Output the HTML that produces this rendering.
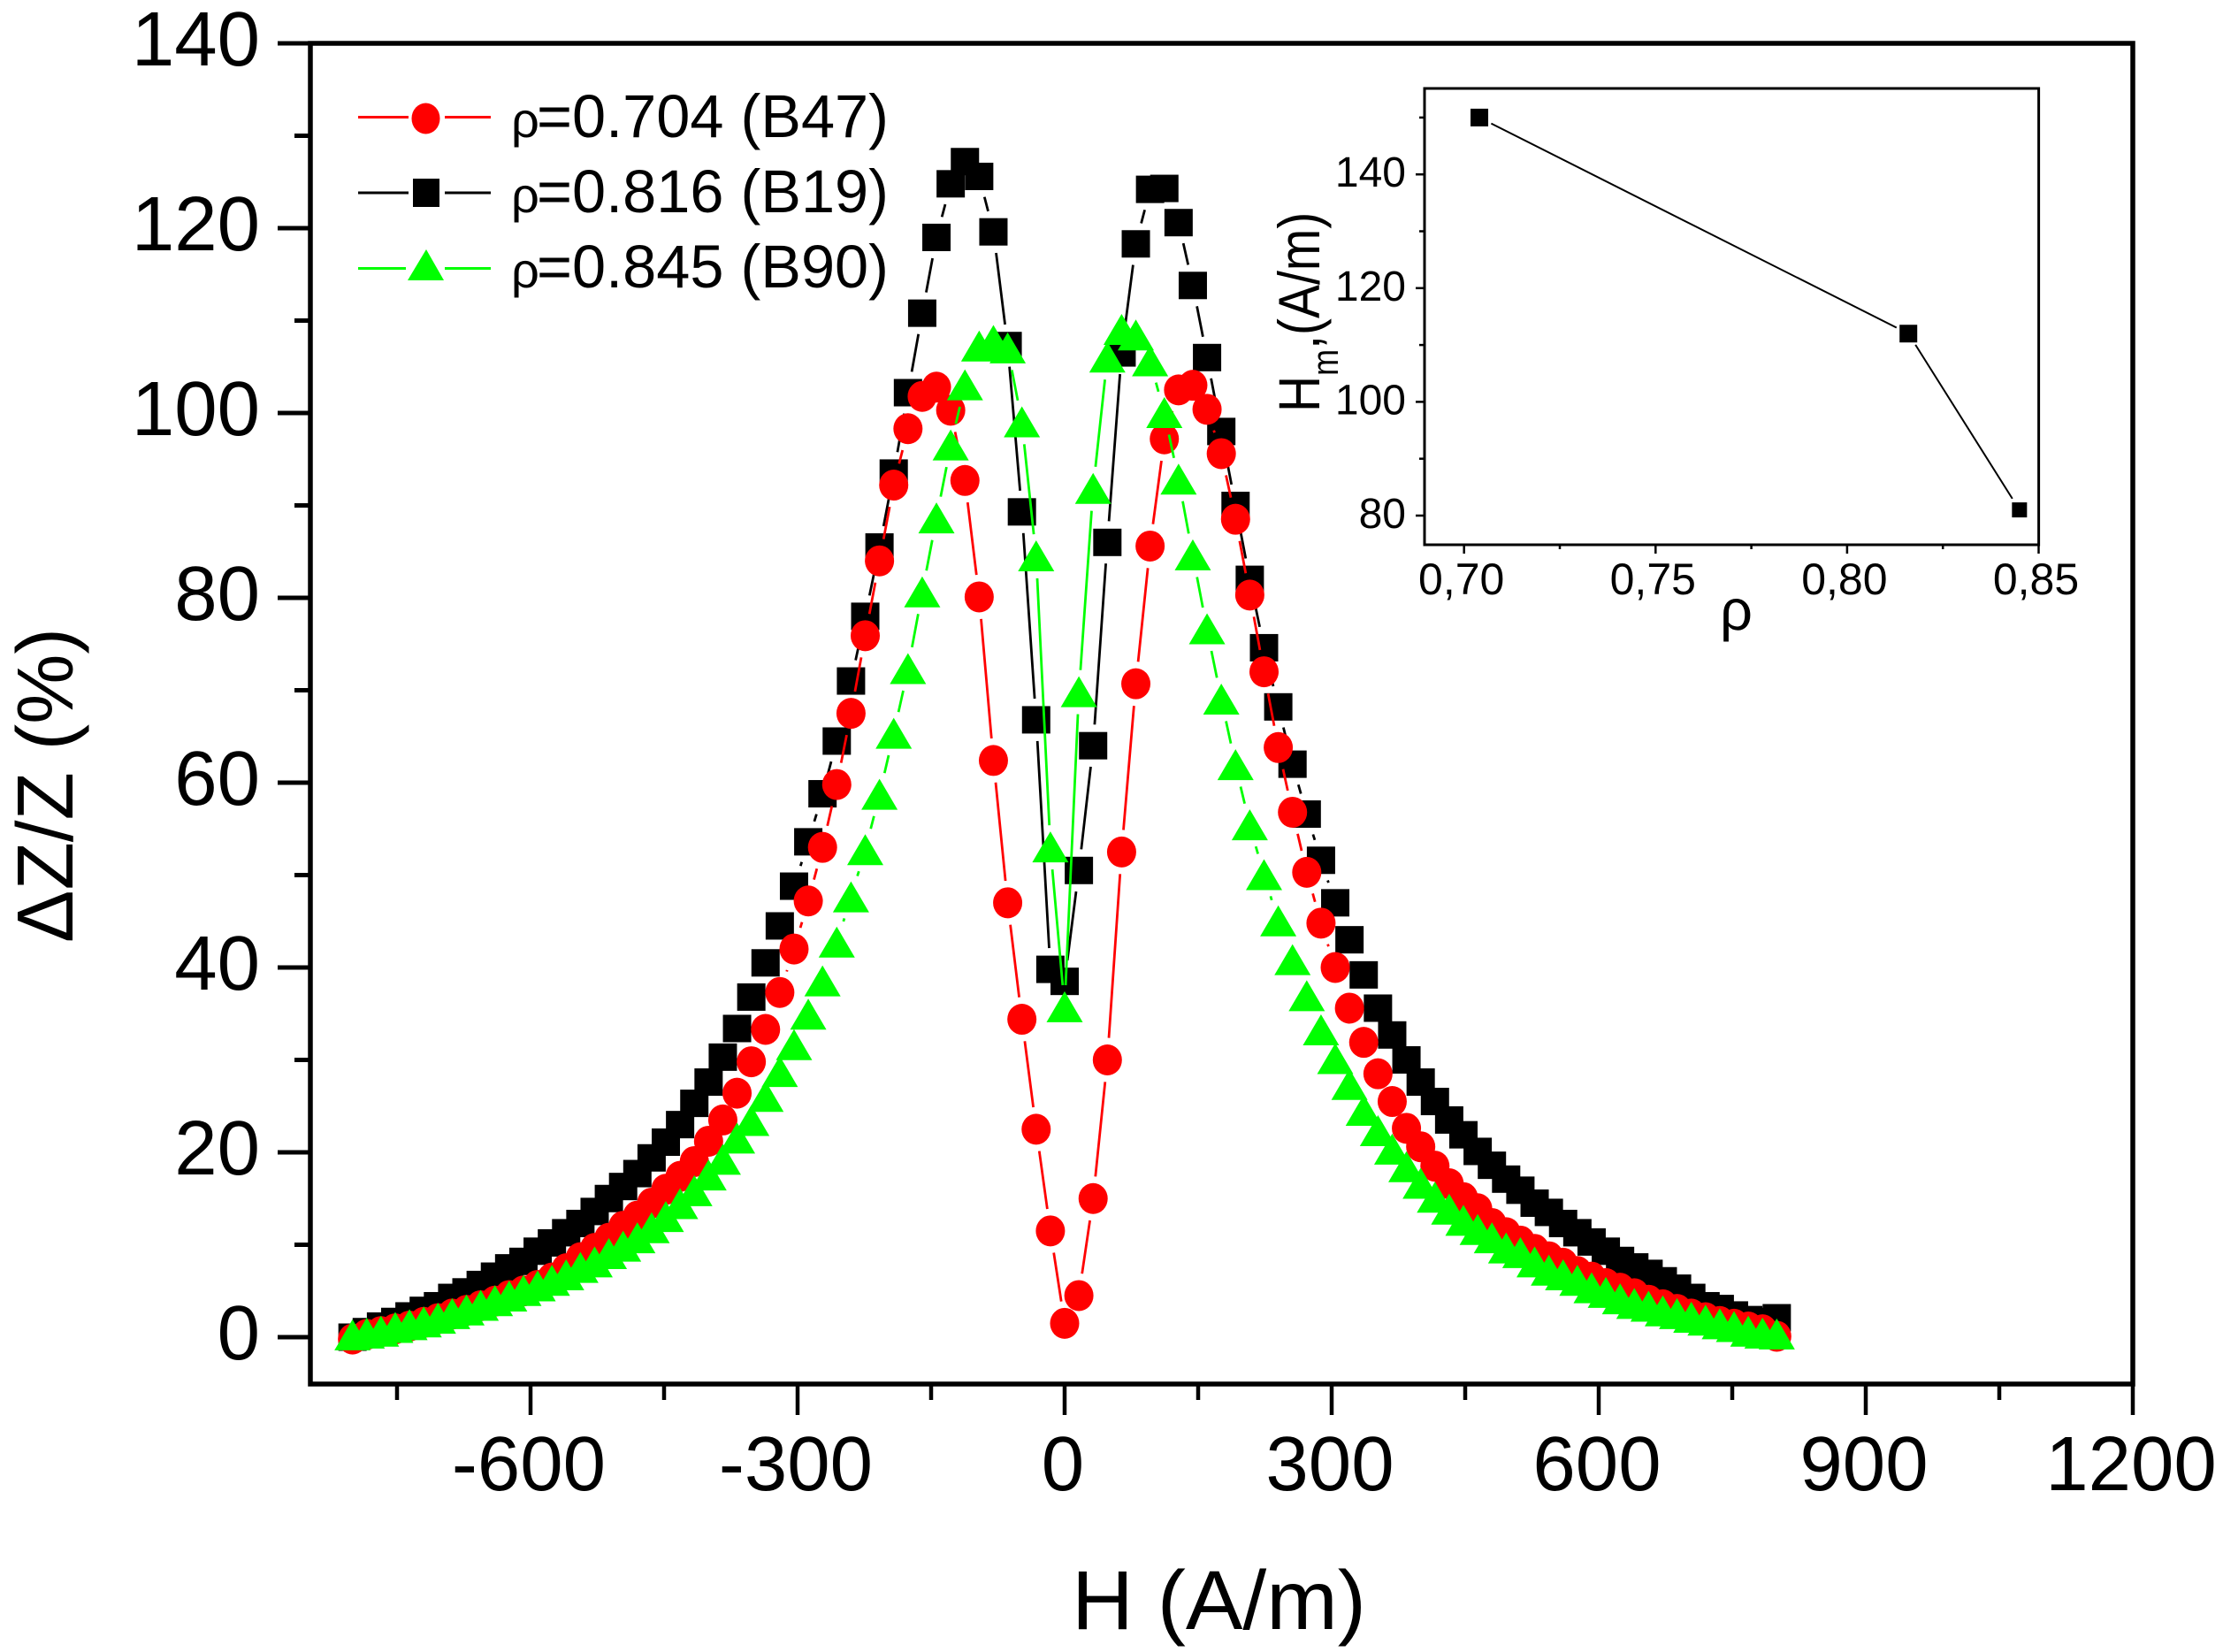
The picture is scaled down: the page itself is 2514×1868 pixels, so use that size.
<!DOCTYPE html>
<html lang="en">
<head>
<meta charset="utf-8">
<title>Magnetoimpedance ratio versus magnetic field</title>
<style>
html,body{margin:0;padding:0;background:#fff;}
svg{display:block;}
text{font-family:"Liberation Sans",sans-serif;fill:#000;}
</style>
</head>
<body>
<svg id="chart" xmlns="http://www.w3.org/2000/svg" width="2514" height="1868" viewBox="0 0 2514 1868">
  <rect x="0" y="0" width="2514" height="1868" fill="#fff"/>
  <g id="main-series"></g>
  <g id="main-axes" stroke="#000" fill="none"></g>
  <g id="main-labels"></g>

  <text x="1212" y="1842" font-size="95" textLength="333" lengthAdjust="spacingAndGlyphs">H (A/m)</text>
  <text transform="translate(82 1066) rotate(-90)" x="0" y="0" font-size="90" textLength="356" lengthAdjust="spacingAndGlyphs">ΔZ/Z (%)</text>

  <g id="legend">
    <g>
      <path d="M405 132.5H462M503 132.5H555" stroke="#f00" stroke-width="3" fill="none"/>
      <ellipse cx="481.5" cy="134" rx="16" ry="17.5" fill="#f00"/>
      <text y="155"><tspan x="578" font-size="56">ρ</tspan><tspan x="607" font-size="68.5">=0.704 (B47)</tspan></text>
    </g>
    <g>
      <path d="M405 218H462M503 218H555" stroke="#000" stroke-width="3" fill="none"/>
      <rect x="467" y="202" width="30" height="32" fill="#000"/>
      <text y="240"><tspan x="578" font-size="56">ρ</tspan><tspan x="607" font-size="68.5">=0.816 (B19)</tspan></text>
    </g>
    <g>
      <path d="M405 303.5H459M503 303.5H555" stroke="#0f0" stroke-width="3" fill="none"/>
      <polygon points="482,282 502,317 461,317" fill="#0f0"/>
      <text y="325"><tspan x="578" font-size="56">ρ</tspan><tspan x="607" font-size="68.5">=0.845 (B90)</tspan></text>
    </g>
  </g>

  <g id="inset">
    <g id="inset-series"></g>
    <g id="inset-axes" stroke="#000" fill="none"></g>
    <g id="inset-labels"></g>
    <text x="1945" y="712" font-size="65">ρ</text>
    <text transform="translate(1492 466) rotate(-90) scale(1 1.16)" x="0" y="0" font-size="57">H<tspan font-size="36" dy="18">m</tspan><tspan dy="-18">,(A/m)</tspan></text>
  </g>
</svg>

<script>
var fieldValues = [-800,-784,-768,-752,-736,-720,-704,-688,-672,-656,-640,-624,-608,-592,-576,-560,-544,-528,-512,-496,-480,-464,-448,-432,-416,-400,-384,-368,-352,-336,-320,-304,-288,-272,-256,-240,-224,-208,-192,-176,-160,-144,-128,-112,-96,-80,-64,-48,-32,-16,0,16,32,48,64,80,96,112,128,144,160,176,192,208,224,240,256,272,288,304,320,336,352,368,384,400,416,432,448,464,480,496,512,528,544,560,576,592,608,624,640,656,672,688,704,720,736,752,768,784,800];

var seriesB47 = [-0.2,0.3,0.6,0.9,1.2,1.6,2,2.5,2.9,3.4,3.9,4.5,5,5.6,6.4,7.4,8.6,9.6,10.7,12,13.1,14.5,16,17.4,19,21.2,23.5,26.4,29.8,33.3,37.3,42,47.2,53,59.8,67.5,75.9,84,92.2,98.3,101.8,102.8,100.3,92.7,80.1,62.4,47,34.4,22.5,11.5,1.5,4.5,15,30,52.5,70.7,85.6,97.2,102.5,103,100.4,95.6,88.5,80.3,72,63.8,56.8,50.3,44.8,40,35.6,31.9,28.5,25.5,22.6,20.6,18.5,16.6,15.1,13.9,12.3,11.3,10.4,9.5,8.7,8,7.1,6.5,5.8,5.3,4.7,4,3.5,3,2.5,2.1,1.7,1.4,1.1,0.8,0.1];

var seriesB19 = [0,0.6,1.2,1.7,2.3,2.9,3.4,4.3,4.9,5.7,6.6,7.5,8.2,9.3,10.2,11.3,12.3,13.6,15,16.3,17.7,19.4,21.1,23,25.3,27.6,30.3,33.4,36.8,40.5,44.5,48.8,53.6,58.8,64.5,71,78,85.5,93.5,102.2,110.8,119,124.8,127.2,125.6,119.6,107.3,89.3,66.8,39.8,38.5,50.5,64,86,106.5,118.3,124.2,124.3,120.6,113.8,106,98,90,82,74.6,68.2,62,56.6,51.6,47,43,39.2,35.6,32.7,30,27.6,25.5,23.5,21.9,20.1,18.6,17.1,15.9,14.5,13.5,12.3,11.3,10.3,9.3,8.3,7.6,6.9,6.1,5.3,4.3,3.4,3.1,2.4,1.9,1.7,2.1];

var seriesB90 = [0.2,0.4,0.6,1,1.3,1.6,2,2.5,2.9,3.4,3.9,4.4,5,5.5,6.1,6.7,7.5,8.1,9,9.8,10.7,11.8,13,14.4,15.8,17.5,19.2,21.5,23.4,26,28.7,31.6,34.9,38.5,42.7,47.6,52.7,58.7,65.3,72.3,80.6,88.6,96.5,103,107.2,107.8,107,99,84.5,53,35.7,69.8,91.8,106,109,108.4,105.6,100,92.8,84.6,76.6,69,61.9,55.4,50,45,40.8,36.9,33.2,30.1,27.3,24.5,22.3,20.3,18.4,16.6,15.1,13.8,12.6,11.6,10.7,9.6,9.1,8.1,7.2,6.7,6.1,5.3,4.8,4.1,3.6,3.3,2.8,2.5,2.1,1.8,1.4,1.1,0.6,0.4,0.3];

var xTickValues = [-600,-300,0,300,600,900,1200];
var xTickLabels = ["-600","-300","0","300","600","900","1200"];
var xMinorTickValues = [-750,-450,-150,150,450,750,1050];
var yTickValues = [0,20,40,60,80,100,120,140];
var yTickLabels = ["0","20","40","60","80","100","120","140"];
var yMinorTickValues = [10,30,50,70,90,110,130];

var insetDensity = [0.704,0.816,0.845];
var insetField = [150,112,81];
var insetXTickValues = [0.70,0.75,0.80,0.85];
var insetXTickLabels = ["0,70","0,75","0,80","0,85"];
var insetXMinorValues = [0.725,0.775,0.825];
var insetYTickValues = [80,100,120,140];
var insetYTickLabels = ["80","100","120","140"];
var insetYMinorValues = [90,110,130,150];

var SVG_NS = 'http://www.w3.org/2000/svg';
function xScale(v){ return 1204 + v * 1.00667; }
function yScale(v){ return 1512 - v * 10.45; }
function insetX(v){ return 1655.7 + (v - 0.7) * 4332; }
function insetY(v){ return 583 - (v - 80) * 6.43; }

function makeEl(tag, attrs){
  var el = document.createElementNS(SVG_NS, tag);
  for (var k in attrs) el.setAttribute(k, attrs[k]);
  return el;
}

/* Connecting segments stop short of each marker, leaving the white gap seen in the source. */
function drawSegments(layer, xs, ys, sx, sy, gap, color, width, name){
  var d = '';
  for (var i = 0; i < xs.length - 1; i++){
    var x1 = sx(xs[i]), y1 = sy(ys[i]), x2 = sx(xs[i+1]), y2 = sy(ys[i+1]);
    var dx = x2 - x1, dy = y2 - y1, len = Math.sqrt(dx*dx + dy*dy);
    if (len <= gap * 2) continue;
    var ux = dx / len, uy = dy / len;
    d += 'M' + (x1 + ux*gap).toFixed(1) + ' ' + (y1 + uy*gap).toFixed(1) +
         'L' + (x2 - ux*gap).toFixed(1) + ' ' + (y2 - uy*gap).toFixed(1);
  }
  var path = makeEl('path', {d: d, stroke: color, 'stroke-width': width, fill: 'none'});
  
  
  layer.appendChild(path);
}

function drawSquares(layer, xs, ys, name){
  for (var i = 0; i < xs.length; i++){
    var m = makeEl('rect', {x: xScale(xs[i]) - 16, y: yScale(ys[i]) - 15.5, width: 32, height: 31, fill: '#000'});
    
    
    layer.appendChild(m);
  }
}
function drawCircles(layer, xs, ys, name){
  for (var i = 0; i < xs.length; i++){
    var m = makeEl('ellipse', {cx: xScale(xs[i]), cy: yScale(ys[i]), rx: 16.5, ry: 17.5, fill: '#f00'});
    
    
    layer.appendChild(m);
  }
}
function drawTriangles(layer, xs, ys, name){
  for (var i = 0; i < xs.length; i++){
    var cx = xScale(xs[i]), cy = yScale(ys[i]);
    var m = makeEl('polygon', {points: cx + ',' + (cy - 18) + ' ' + (cx + 20.5) + ',' + (cy + 17) + ' ' + (cx - 20.5) + ',' + (cy + 17), fill: '#0f0'});
    
    
    layer.appendChild(m);
  }
}

var seriesLayer = document.getElementById('main-series');
drawSegments(seriesLayer, fieldValues, seriesB19, xScale, yScale, 24, '#000', 2.8, 'line-b19');
drawSquares(seriesLayer, fieldValues, seriesB19, 'point-b19');
drawSegments(seriesLayer, fieldValues, seriesB47, xScale, yScale, 25, '#f00', 2.8, 'line-b47');
drawCircles(seriesLayer, fieldValues, seriesB47, 'point-b47');
drawSegments(seriesLayer, fieldValues, seriesB90, xScale, yScale, 25, '#0f0', 2.8, 'line-b90');
drawTriangles(seriesLayer, fieldValues, seriesB90, 'point-b90');

/* Main axes */
var axes = document.getElementById('main-axes');
var labels = document.getElementById('main-labels');
var plotLeft = 351, plotRight = 2412, plotTop = 49, plotBottom = 1565;

var frame = makeEl('rect', {x: plotLeft, y: plotTop, width: plotRight - plotLeft, height: plotBottom - plotTop, 'stroke-width': 5.5});


axes.appendChild(frame);

xTickValues.forEach(function(v, i){
  var t = makeEl('line', {x1: xScale(v), x2: xScale(v), y1: plotBottom, y2: plotBottom + 35, 'stroke-width': 4.5});
  
  
  axes.appendChild(t);
  var lab = makeEl('text', {x: xScale(v) - 2, y: 1685, 'font-size': 87, 'text-anchor': 'middle'});
  lab.textContent = xTickLabels[i];
  
  
  labels.appendChild(lab);
});
xMinorTickValues.forEach(function(v){
  var t = makeEl('line', {x1: xScale(v), x2: xScale(v), y1: plotBottom, y2: plotBottom + 18, 'stroke-width': 4.5});
  
  
  axes.appendChild(t);
});
yTickValues.forEach(function(v, i){
  var t = makeEl('line', {x1: plotLeft - 37, x2: plotLeft, y1: yScale(v), y2: yScale(v), 'stroke-width': 5});
  
  
  axes.appendChild(t);
  var lab = makeEl('text', {x: 294, y: yScale(v) + 25, 'font-size': 87, 'text-anchor': 'end'});
  lab.textContent = yTickLabels[i];
  
  
  labels.appendChild(lab);
});
yMinorTickValues.forEach(function(v){
  var t = makeEl('line', {x1: plotLeft - 18, x2: plotLeft, y1: yScale(v), y2: yScale(v), 'stroke-width': 5});
  
  
  axes.appendChild(t);
});

/* Inset */
var insetSeries = document.getElementById('inset-series');
var insetAxes = document.getElementById('inset-axes');
var insetLabels = document.getElementById('inset-labels');
var insetLeft = 1611, insetRight = 2305.6, insetTop = 100, insetBottom = 616;

var insetFrame = makeEl('rect', {x: insetLeft, y: insetTop, width: insetRight - insetLeft, height: insetBottom - insetTop, 'stroke-width': 3});


insetAxes.appendChild(insetFrame);

drawSegments(insetSeries, insetDensity, insetField, insetX, insetY, 15, '#000', 2, 'inset-line');
insetDensity.forEach(function(v, i){
  var size = i === 2 ? 17 : 20;
  var m = makeEl('rect', {x: insetX(v) - size/2, y: insetY(insetField[i]) - size/2, width: size, height: size, fill: '#000'});
  
  
  insetSeries.appendChild(m);
});
insetXTickValues.forEach(function(v, i){
  var t = makeEl('line', {x1: insetX(v), x2: insetX(v), y1: insetBottom, y2: insetBottom + 10, 'stroke-width': 2.5});
  
  
  insetAxes.appendChild(t);
  var lab = makeEl('text', {x: insetX(v) - 3, y: 672, 'font-size': 50, 'text-anchor': 'middle'});
  lab.textContent = insetXTickLabels[i];
  
  
  insetLabels.appendChild(lab);
});
insetXMinorValues.forEach(function(v){
  var t = makeEl('line', {x1: insetX(v), x2: insetX(v), y1: insetBottom, y2: insetBottom + 5, 'stroke-width': 2.5});
  
  
  insetAxes.appendChild(t);
});
insetYTickValues.forEach(function(v, i){
  var t = makeEl('line', {x1: insetLeft - 10, x2: insetLeft, y1: insetY(v), y2: insetY(v), 'stroke-width': 2.5});
  
  
  insetAxes.appendChild(t);
  var lab = makeEl('text', {x: 1590, y: insetY(v) + 14, 'font-size': 48, 'text-anchor': 'end'});
  lab.textContent = insetYTickLabels[i];
  
  
  insetLabels.appendChild(lab);
});
insetYMinorValues.forEach(function(v){
  var t = makeEl('line', {x1: insetLeft - 6, x2: insetLeft, y1: insetY(v), y2: insetY(v), 'stroke-width': 2.5});
  
  
  insetAxes.appendChild(t);
});
</script>
</body>
</html>
